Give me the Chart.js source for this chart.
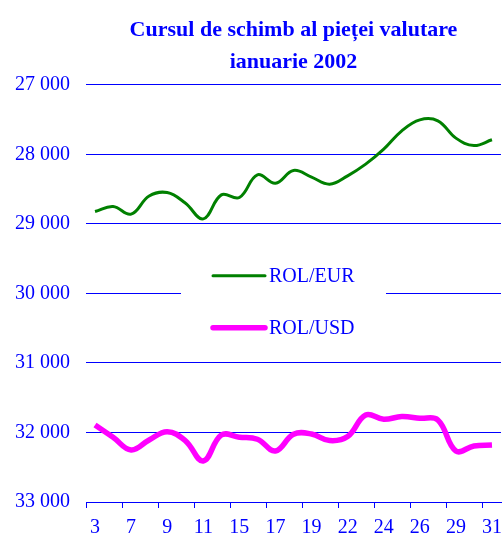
<!DOCTYPE html>
<html>
<head>
<meta charset="utf-8">
<script src="https://cdn.jsdelivr.net/npm/chart.js@4.4.1/dist/chart.umd.min.js"></script>
<style>
  body { margin: 0; background: #fff; }
</style>
</head>
<body>
<canvas id="chart" width="502" height="534"></canvas>
<script>
// trading days, ianuarie 2002
const days = ['3', '4', '7', '8', '9', '10', '11', '14', '15', '16', '17', '18',
  '19', '21', '22', '23', '24', '25', '26', '28', '29', '30', '31'];

const rolEur = [28823, 28750, 28860, 28600, 28550, 28700, 28928, 28583, 28621, 28295, 28415, 28232,
  28328, 28429, 28309, 28141, 27926, 27662, 27504, 27518, 27767, 27873, 27791];

const rolUsd = [31892, 32069, 32252, 32108, 31988, 32117, 32410, 32036, 32069, 32098, 32266, 32026,
  32022, 32117, 32059, 31748, 31811, 31772, 31796, 31820, 32266, 32194, 32180];

const yTicks = [27000, 28000, 29000, 30000, 31000, 32000, 33000];

const BLUE = '#0000ff';
const FONT = "'Liberation Serif', 'Times New Roman', serif";

const formatThousands = (v) => String(v).replace(/\B(?=(\d{3})+(?!\d))/g, ' ');

// legend sits inside the plot, on a white patch over the 30 000 gridline
const innerLegend = {
  id: 'innerLegend',
  afterDatasetsDraw(chart) {
    const { ctx, chartArea } = chart;
    const left = chartArea.left;
    const top = chartArea.top;

    ctx.save();
    ctx.fillStyle = '#fff';
    ctx.fillRect(left + 95, top + 170, 205, 95);

    chart.data.datasets.forEach((ds, i) => {
      const y = top + 191 + i * 52;
      ctx.strokeStyle = ds.borderColor;
      ctx.lineWidth = ds.borderWidth;
      ctx.lineCap = 'round';
      ctx.beginPath();
      ctx.moveTo(left + 127, y);
      ctx.lineTo(left + 179, y);
      ctx.stroke();

      ctx.fillStyle = BLUE;
      ctx.font = `20px ${FONT}`;
      ctx.textBaseline = 'middle';
      ctx.fillText(ds.label, left + 183, y + 1);
    });
    ctx.restore();
  },
};

new Chart(document.getElementById('chart'), {
  type: 'line',
  data: {
    labels: days,
    datasets: [
      {
        label: 'ROL/EUR',
        data: rolEur,
        borderColor: '#008000',
        borderWidth: 3,
        tension: 0.4,
        pointRadius: 0,
        fill: false,
      },
      {
        label: 'ROL/USD',
        data: rolUsd,
        borderColor: '#ff00ff',
        borderWidth: 5.5,
        tension: 0.4,
        pointRadius: 0,
        fill: false,
      },
    ],
  },
  options: {
    responsive: false,
    animation: false,
    layout: { padding: { left: 0, right: 1, bottom: 0 } },
    plugins: {
      legend: { display: false },
      tooltip: { enabled: false },
      title: {
        display: true,
        fullSize: false,
        text: ['Cursul de schimb al pieței valutare', 'ianuarie 2002'],
        color: BLUE,
        font: { family: FONT, size: 22, weight: 'bold', lineHeight: 1.45 },
        padding: { top: 14, bottom: 7 },
      },
    },
    scales: {
      x: {
        offset: true,
        grid: {
          offset: true,
          drawOnChartArea: false,
          tickLength: 6,
          tickColor: (ctx) => (ctx.index % 2 === 0 ? BLUE : 'rgba(0,0,0,0)'),
        },
        border: { color: BLUE, width: 1 },
        ticks: {
          autoSkip: false,
          maxRotation: 0,
          padding: 8,
          color: BLUE,
          font: { family: FONT, size: 20 },
          callback: function (val, idx) {
            return idx % 2 === 0 ? this.getLabelForValue(val) : '';
          },
        },
        afterFit(scale) {
          scale.height = 32;
          scale.paddingLeft = 0;
          scale.paddingRight = 0;
        },
      },
      y: {
        reverse: true,
        min: yTicks[0],
        max: yTicks[yTicks.length - 1],
        afterBuildTicks(scale) {
          scale.ticks = yTicks.map((v) => ({ value: v }));
        },
        grid: {
          color: BLUE,
          lineWidth: 1,
          drawTicks: false,
        },
        border: { display: false },
        ticks: {
          padding: 16,
          color: BLUE,
          font: { family: FONT, size: 20 },
          callback: (v) => formatThousands(v),
        },
        afterFit(scale) {
          scale.width = 86;
        },
      },
    },
  },
  plugins: [innerLegend],
});
</script>
</body>
</html>
